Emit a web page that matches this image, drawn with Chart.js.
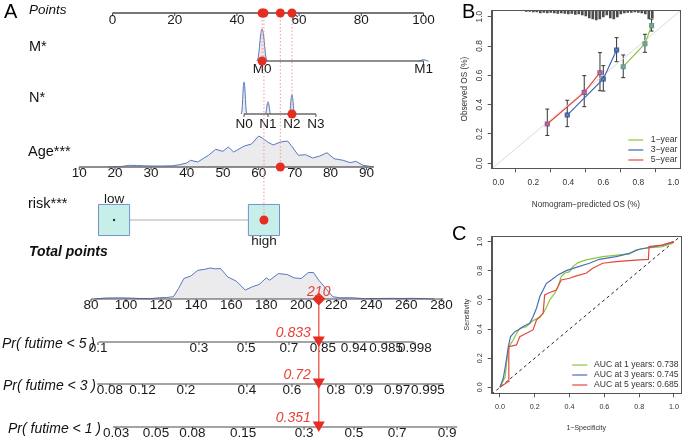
<!DOCTYPE html>
<html><head><meta charset="utf-8">
<script src="https://cdn.jsdelivr.net/npm/chart.js@4.4.1/dist/chart.umd.min.js"></script>
<style>
html,body{margin:0;padding:0;background:#fff;overflow:hidden}
#wrap{position:relative;width:685px;height:438px;background:#fff}
canvas{position:absolute;display:block}
</style></head><body>
<div id="wrap">
<canvas id="cA" width="458" height="438" style="left:0px;top:0px"></canvas>
<canvas id="cB" width="230" height="215" style="left:455px;top:0px"></canvas>
<canvas id="cC" width="235" height="223" style="left:450px;top:215px"></canvas>
</div>
<script>
// ===================== DATA : panel A (nomogram) =====================
const pointsTicks = [0, 20, 40, 60, 80, 100];
const mLevels = ['M0', 'M1'];
const mPoints = [48.1, 100];
const mShare = [1.0, 0.04];
const nLevels = ['N0', 'N1', 'N2', 'N3'];
const nPoints = [42.3, 50.0, 57.7, 65.4];
const nShare = [1.0, 0.38, 0.6, 0];
const ageTicks = [10, 20, 30, 40, 50, 60, 70, 80, 90];
const agePoints = [-10.7, 0.8, 12.4, 23.9, 35.5, 47.0, 58.6, 70.1, 81.7];
const ageRange = [10, 92];
const ageGrid = [18,20,22,24,26,28,30,33,36,38,40,41,43,46,48,50,51.5,53,54.5,56,58,60,61,62.5,64,66,68,69,71,73,75,77,79,81,83.5,85.5,87,89,92];
const ageDens = [0,0.3,0.6,1.7,1.5,1.2,1,1,1.2,2.3,4,6.7,5,11.7,17.7,15.7,20,15,18,21,23,31,29,25,22,25,26,21.7,11.7,12.3,9,11,14.3,8.3,6.7,4.3,5.7,1.7,0];
const riskLevels = ['low', 'high'];
const riskPoints = [0.5, 48.7];
const totalTicks = [80, 100, 120, 140, 160, 180, 200, 220, 240, 260, 280];
const totalRange = [80, 281];
const totalGrid = [82,88,95,102,108,114,119,123,127,130,133,137,141,145,148,151,154,158,163,168,172,176,180,182,187,192,196,200,204,207,210,214,218,222,229,236,244,252,258,264,271,276];
const totalDens = [0,1,1.2,1,0.5,0.3,1.3,1.5,2.3,10.7,20.7,23.3,29,30,31.3,30.5,30.7,22.3,18,9,12.3,14.7,21.3,19,25.7,24.7,21.3,20.7,26.7,26.7,19,10.7,2.3,1.3,1.3,0.3,0.5,0.7,0.5,0.7,0.3,0];
const pr5Labels = ['0.1','0.3','0.5','0.7','0.85','0.94','0.985','0.998'];
const pr5Points = [84.0, 141.6, 168.5, 193.0, 212.4, 230.1, 248.4, 264.9];
const pr5Range = [84.5, 264.5];
const pr3Labels = ['0.08','0.12','0.2','0.4','0.6','0.8','0.9','0.97','0.995'];
const pr3Points = [90.8, 109.4, 134.2, 169.0, 194.7, 219.8, 235.8, 254.7, 272.3];
const pr3Range = [83.5, 281];
const pr1Labels = ['0.03','0.05','0.08','0.15','0.3','0.5','0.7','0.9'];
const pr1Points = [94.3, 117.1, 137.9, 166.8, 201.6, 230.1, 254.7, 283.2];
const pr1Range = [92.5, 289];
const patientM = 'M0', patientN = 'N2', patientAge = 66, patientRisk = 'high';
const patientTotal = 210;
const patientProb = [0.833, 0.72, 0.351];   // 5-, 3-, 1-year

// ===================== DATA : panel B (calibration) =====================
const calTicks = [0, 0.2, 0.4, 0.6, 0.8, 1.0];
const cal1Pred = [0.714, 0.838, 0.876], cal1Obs = [0.659, 0.816, 0.939], cal1Lo = [0.584, 0.757, 0.902], cal1Hi = [0.739, 0.880, 0.984];
const cal3Pred = [0.394, 0.600, 0.676], cal3Obs = [0.329, 0.575, 0.773], cal3Lo = [0.25, 0.493, 0.693], cal3Hi = [0.43, 0.666, 0.857];
const cal5Pred = [0.280, 0.491, 0.581], cal5Obs = [0.268, 0.484, 0.618], cal5Lo = [0.19, 0.386, 0.495], cal5Hi = [0.37, 0.598, 0.755];
const calNames = ['1\u2212year', '3\u2212year', '5\u2212year'];
const rugX = [0.16,0.18,0.20,0.22,0.24,0.26,0.28,0.30,0.32,0.34,0.36,0.38,0.40,0.42,0.44,0.46,0.48,0.50,0.52,0.54,0.56,0.58,0.60,0.62,0.64,0.66,0.68,0.70,0.72,0.74,0.76,0.78,0.80,0.82,0.84,0.86,0.88];
const rugH = [1.5,1.5,2,2,3,2.5,3,2.5,3,3.5,3,3.5,4,3.5,4.5,4,5,6,8,9,10,9,7,5,8,9,7,4,3,2.5,2.5,2,2.5,3,4,9,8];

// ===================== DATA : panel C (ROC) =====================
const roc1Fpr = [0,0.03,0.038,0.048,0.057,0.076,0.095,0.114,0.152,0.19,0.229,0.248,0.267,0.286,0.314,0.333,0.352,0.371,0.4,0.419,0.448,0.495,0.59,0.743,0.78,0.838,0.933,0.99,1];
const roc1Tpr = [0,0.07,0.165,0.256,0.29,0.325,0.37,0.405,0.417,0.458,0.48,0.508,0.55,0.6,0.645,0.69,0.76,0.783,0.794,0.829,0.856,0.875,0.897,0.916,0.943,0.955,0.966,0.99,1];
const roc3Fpr = [0,0.019,0.034,0.048,0.061,0.086,0.114,0.133,0.171,0.19,0.21,0.229,0.248,0.267,0.295,0.333,0.381,0.438,0.514,0.571,0.667,0.743,0.8,0.933,1];
const roc3Tpr = [0,0.062,0.165,0.28,0.348,0.382,0.40,0.417,0.44,0.485,0.543,0.623,0.668,0.714,0.737,0.772,0.801,0.824,0.852,0.879,0.897,0.92,0.948,0.977,1];
const roc5Fpr = [0,0.048,0.051,0.095,0.114,0.152,0.19,0.21,0.248,0.257,0.276,0.324,0.352,0.4,0.438,0.495,0.533,0.59,0.667,0.8,0.853,0.857,0.933,1];
const roc5Tpr = [0,0.039,0.279,0.291,0.348,0.371,0.394,0.462,0.508,0.634,0.646,0.668,0.737,0.749,0.765,0.783,0.817,0.852,0.863,0.875,0.879,0.966,0.977,1];
const rocNames = ['AUC at 1 years: 0.738', 'AUC at 3 years: 0.745', 'AUC at 5 years: 0.685'];

// ===================== STYLE / LAYOUT =====================
const FONT = "'Liberation Sans', Arial, Helvetica, sans-serif";
Chart.defaults.font.family = FONT;
Chart.defaults.animation = false;
const RED = '#e52d22';
const RA = {points:13, M:61, N:114, age:167, risk:220, total:299, pr5:342, pr3:384, pr1:427};
const HA = {M:32, N:32, age:31, total:31};
const DENS_FILL = '#ebeaec', DENS_LINE = '#5677c2', AXIS = '#4a4a4a';

function interp(v, xs, ys) {
  let i = 0;
  if (v >= xs[xs.length - 1]) i = xs.length - 2;
  else while (i < xs.length - 2 && v > xs[i + 1]) i++;
  const t = (v - xs[i]) / (xs[i + 1] - xs[i]);
  return ys[i] + t * (ys[i + 1] - ys[i]);
}
const agePts = a => interp(a, ageTicks, agePoints);

// ---------- panel A datasets ----------
const dsA = [];
function add(o) {
  dsA.push(Object.assign({showLine:true, pointRadius:0, borderWidth:1.2, borderColor:AXIS,
    xAxisID:'x', yAxisID:'y', tension:0, fill:false, order:5}, o));
}
const spikeOffset = [-1.2, -0.9, -0.6, -0.3, 0, 0.3, 0.6, 0.9, 1.2];
const spikeShape = [0, 0.1, 0.45, 0.85, 1, 0.85, 0.45, 0.1, 0];
function addSpikes(pts, share, base, h, w) {
  pts.forEach((p, i) => {
    if (share[i] <= 0) return;
    add({data: spikeOffset.map((o, k) => ({x: p + o * w, y: base - spikeShape[k] * share[i] * h})),
      fill:{value: base}, backgroundColor: DENS_FILL, borderColor: DENS_LINE, borderWidth:1, tension:0.3, order:20});
  });
}
const ageMax = Math.max(...ageDens), totMax = Math.max(...totalDens);
add({data: ageGrid.map((a, i) => ({x: agePts(a), y: RA.age - ageDens[i] / ageMax * HA.age})),
  fill:{value: RA.age}, backgroundColor: DENS_FILL, borderColor: DENS_LINE, borderWidth:1, order:20});
add({xAxisID:'xt', data: totalGrid.map((t, i) => ({x: t, y: RA.total - totalDens[i] / totMax * HA.total})),
  fill:{value: RA.total}, backgroundColor: DENS_FILL, borderColor: DENS_LINE, borderWidth:1, order:20});
addSpikes(mPoints, mShare, RA.M, HA.M, 1.4);
addSpikes(nPoints, nShare, RA.N, HA.N, 0.75);
add({data:[{x:pointsTicks[0], y:RA.points}, {x:pointsTicks[pointsTicks.length-1], y:RA.points}], borderWidth:1.5});
add({data:[{x:mPoints[0], y:RA.M}, {x:mPoints[mPoints.length-1], y:RA.M}], borderColor:'#6a6a6a', borderWidth:1.5});
add({data:[{x:nPoints[0], y:RA.N}, {x:nPoints[nPoints.length-1], y:RA.N}], borderColor:'#6a6a6a', borderWidth:1.5});
add({data:[{x:agePts(ageRange[0]), y:RA.age}, {x:agePts(ageRange[1]), y:RA.age}], borderColor:'#6a6a6a', borderWidth:1.5});
add({xAxisID:'xt', data:[{x:totalRange[0], y:RA.total}, {x:totalRange[1], y:RA.total}]});
add({xAxisID:'xt', data:[{x:pr5Range[0], y:RA.pr5}, {x:pr5Range[1], y:RA.pr5}]});
add({xAxisID:'xt', data:[{x:pr3Range[0], y:RA.pr3}, {x:pr3Range[1], y:RA.pr3}]});
add({xAxisID:'xt', data:[{x:pr1Range[0], y:RA.pr1}, {x:pr1Range[1], y:RA.pr1}]});
add({data:[{x:riskPoints[0], y:RA.risk}, {x:riskPoints[1], y:RA.risk}], borderColor:'#d6d6d6', borderWidth:2, order:9});
add({showLine:false, data: riskPoints.map(p => ({x:p, y:RA.risk})), pointStyle:'rect', pointRadius:22,
  pointBackgroundColor:'#c6efe9', pointBorderColor:'#7592cb', pointBorderWidth:1, order:7});
add({showLine:false, data:[{x:riskPoints[0], y:RA.risk}], pointRadius:1.2, pointBackgroundColor:'#333', pointBorderWidth:0, order:6});
const sel = [
  {p: mPoints[mLevels.indexOf(patientM)], row: RA.M},
  {p: nPoints[nLevels.indexOf(patientN)], row: RA.N},
  {p: agePts(patientAge), row: RA.age},
  {p: riskPoints[riskLevels.indexOf(patientRisk)], row: RA.risk}
];
sel.forEach(s => add({data:[{x:s.p, y:RA.points}, {x:s.p, y:s.row}], borderColor:'#f19a92', borderWidth:1, borderDash:[1.5, 2], order:4}));
add({showLine:false, data: sel.map(s => ({x:s.p, y:RA.points})).concat(sel.map(s => ({x:s.p, y:s.row}))),
  pointRadius:4.5, pointBackgroundColor:RED, pointBorderColor:RED, pointBorderWidth:0, order:1});
add({xAxisID:'xt', data:[{x:patientTotal, y:RA.total}, {x:patientTotal, y:RA.pr1}], borderColor:'#ec6a62', borderWidth:1.5, order:3});
add({xAxisID:'xt', showLine:false, data:[{x:patientTotal, y:RA.total}], pointStyle:'rectRot', pointRadius:6.5,
  pointBackgroundColor:RED, pointBorderColor:RED, pointBorderWidth:0, order:1});
add({xAxisID:'xt', showLine:false, data:[RA.pr5, RA.pr3, RA.pr1].map(r => ({x:patientTotal, y:r - 2})),
  pointStyle:'triangle', pointRotation:180, pointRadius:7, pointBackgroundColor:RED, pointBorderColor:RED, pointBorderWidth:0, order:1});

const rowsSpec = [
  {axis:'x', row:'points', vals: pointsTicks, labs: pointsTicks.map(String), dy:7},
  {axis:'x', row:'M', vals: mPoints, labs: mLevels, dy:8},
  {axis:'x', row:'N', vals: nPoints, labs: nLevels, dy:10},
  {axis:'x', row:'age', vals: agePoints, labs: ageTicks.map(String), dy:6},
  {axis:'xt', row:'total', vals: totalTicks, labs: totalTicks.map(String), dy:6},
  {axis:'xt', row:'pr5', vals: pr5Points, labs: pr5Labels, dy:6},
  {axis:'xt', row:'pr3', vals: pr3Points, labs: pr3Labels, dy:6},
  {axis:'xt', row:'pr1', vals: pr1Points, labs: pr1Labels, dy:6}
];
const titlesA = [
  {t:'Points', x:29, y:10, f:'italic 13.5px'},
  {t:'M*', x:29, y:47, f:'14.5px'},
  {t:'N*', x:29, y:98, f:'14.5px'},
  {t:'Age***', x:28, y:152, f:'14.5px'},
  {t:'risk***', x:28, y:204, f:'14.5px'},
  {t:'Total points', x:29, y:252, f:'italic bold 14px'},
  {t:'Pr( futime < 5 )', x:2, y:344, f:'italic 14px'},
  {t:'Pr( futime < 3 )', x:3, y:386, f:'italic 14px'},
  {t:'Pr( futime < 1 )', x:8, y:429, f:'italic 14px'}
];

const nomoText = {
  id: 'nomoText',
  beforeDatasetsDraw(chart) {
    const ctx = chart.ctx, sy = chart.scales.y;
    ctx.save();
    ctx.strokeStyle = AXIS; ctx.lineWidth = 1;
    ctx.font = '13.5px ' + FONT; ctx.fillStyle = '#1a1a1a';
    ctx.textAlign = 'center'; ctx.textBaseline = 'middle';
    rowsSpec.forEach(r => {
      const sc = chart.scales[r.axis], y = sy.getPixelForValue(RA[r.row]);
      r.vals.forEach((v, i) => {
        const px = sc.getPixelForValue(v);
        ctx.beginPath(); ctx.moveTo(px, y); ctx.lineTo(px, y + 3); ctx.stroke();
        ctx.fillText(r.labs[i], px, y + r.dy);
      });
    });
    const sx = chart.scales.x;
    ctx.fillText(riskLevels[0], sx.getPixelForValue(riskPoints[0]), sy.getPixelForValue(RA.risk) - 21);
    ctx.fillText(riskLevels[1], sx.getPixelForValue(riskPoints[1]), sy.getPixelForValue(RA.risk) + 21);
    ctx.restore();
  },
  afterDatasetsDraw(chart) {
    const ctx = chart.ctx, sy = chart.scales.y, st = chart.scales.xt;
    ctx.save();
    ctx.fillStyle = '#111'; ctx.textAlign = 'left'; ctx.textBaseline = 'middle';
    titlesA.forEach(o => { ctx.font = o.f + ' ' + FONT; ctx.fillText(o.t, o.x, o.y); });
    ctx.font = '20px ' + FONT; ctx.textBaseline = 'alphabetic'; ctx.fillStyle = '#000';
    ctx.fillText('A', 4, 18);
    ctx.fillStyle = '#e8433a'; ctx.font = 'italic 14px ' + FONT;
    const px = st.getPixelForValue(patientTotal);
    ctx.textAlign = 'center'; ctx.textBaseline = 'middle';
    ctx.fillText(String(patientTotal), px, sy.getPixelForValue(RA.total) - 7);
    ctx.textAlign = 'right';
    [RA.pr5, RA.pr3, RA.pr1].forEach((r, i) => ctx.fillText(String(patientProb[i]), px - 8, sy.getPixelForValue(r) - 9));
    ctx.restore();
  }
};

new Chart(document.getElementById('cA'), {
  type: 'line',
  data: {datasets: dsA},
  options: {
    responsive: false, animation: false, events: [],
    layout: {padding: 0, autoPadding: false},
    scales: {
      x: {type:'linear', display:false, min:-36.17, max:111.09},
      xt: {type:'linear', axis:'x', display:false, min:28.06, max:289.47},
      y: {type:'linear', display:false, min:0, max:438, reverse:true}
    },
    plugins: {legend:{display:false}, tooltip:{enabled:false}}
  },
  plugins: [nomoText]
});

// ---------- shared plugins for B and C ----------
const boxPlugin = {
  id: 'boxPlugin',
  afterDraw(chart, a, o) {
    const {ctx, chartArea:c} = chart;
    ctx.save(); ctx.strokeStyle = '#555'; ctx.lineWidth = 1;
    ctx.strokeRect(Math.round(c.left) + 0.5, Math.round(c.top) + 0.5, Math.round(c.right - c.left), Math.round(c.bottom - c.top));
    const sy = chart.scales.y;
    ctx.fillStyle = '#333'; ctx.font = o.tickSize + 'px ' + FONT; ctx.textAlign = 'center'; ctx.textBaseline = 'middle';
    sy.ticks.forEach(t => {
      ctx.save(); ctx.translate(c.left - o.tickOffset, sy.getPixelForValue(t.value)); ctx.rotate(-Math.PI / 2);
      ctx.fillText(t.value.toFixed(1), 0, 0); ctx.restore();
    });
    ctx.font = o.legSize + 'px ' + FONT; ctx.textAlign = 'left'; ctx.fillStyle = '#333'; ctx.lineWidth = 1.2;
    o.items.forEach((it, i) => {
      const y = c.bottom - o.rows[i];
      ctx.strokeStyle = it.color; ctx.beginPath(); ctx.moveTo(c.right - o.l1, y); ctx.lineTo(c.right - o.l2, y); ctx.stroke();
      ctx.fillText(it.text, c.right - o.tx, y);
    });
    ctx.fillStyle = '#000'; ctx.font = '20px ' + FONT; ctx.textBaseline = 'alphabetic';
    ctx.fillText(o.letter, o.lx, o.ly);
    ctx.restore();
  }
};
function axisCfg(min, max, ticks, extra) {
  return Object.assign({
    type:'linear', min, max, offset:false,
    afterBuildTicks: s => { s.ticks = ticks.map(v => ({value:v})); },
    grid: {drawOnChartArea:false, drawTicks:true, tickLength:4, color:'#555'},
    border: {display:true, color:'#555'}
  }, extra);
}

// ---------- panel B ----------
const B_YMAX = 1.0457, PX_PER_UNIT_B = 146.6;
const errPlugin = {
  id: 'errPlugin',
  beforeDatasetsDraw(chart) {
    const ctx = chart.ctx, sx = chart.scales.x, sy = chart.scales.y;
    ctx.save(); ctx.strokeStyle = '#333'; ctx.lineWidth = 1;
    [[cal1Pred, cal1Lo, cal1Hi], [cal3Pred, cal3Lo, cal3Hi], [cal5Pred, cal5Lo, cal5Hi]].forEach(([xs, lo, hi]) => {
      xs.forEach((x, i) => {
        const px = sx.getPixelForValue(x), y1 = sy.getPixelForValue(lo[i]), y2 = sy.getPixelForValue(hi[i]);
        ctx.beginPath();
        ctx.moveTo(px, y1); ctx.lineTo(px, y2);
        ctx.moveTo(px - 2, y1); ctx.lineTo(px + 2, y1);
        ctx.moveTo(px - 2, y2); ctx.lineTo(px + 2, y2);
        ctx.stroke();
      });
    });
    ctx.restore();
  }
};
const calColors = ['#8cc63f', '#4065b4', '#e4473b'];
const calMarker = ['#5f9e86', '#2c57a6', '#a24a86'];
const dsB = [
  {data:[{x:-0.1, y:-0.1}, {x:1.1, y:1.1}], borderColor:'#dadada', borderWidth:1, pointRadius:0, order:10},
  {type:'bar', data: rugX.map((x, i) => ({x, y:[B_YMAX - rugH[i] / PX_PER_UNIT_B, B_YMAX]})),
    backgroundColor:'#4d4d4d', barThickness:2, grouped:false, order:9}
];
[[cal1Pred, cal1Obs], [cal3Pred, cal3Obs], [cal5Pred, cal5Obs]].forEach(([xs, ys], g) => {
  const d = xs.map((x, i) => ({x, y: ys[i]}));
  dsB.push({data:d, borderColor:calColors[g], borderWidth:1.2, pointStyle:'rect', pointRadius:3.6,
    pointBackgroundColor:calMarker[g], pointBorderColor:calMarker[g], pointBorderWidth:0, order:2});
  dsB.push({data:d, showLine:false, pointStyle:'crossRot', pointRadius:2.6, pointBorderColor:'#a0a0a0', pointBorderWidth:0.8, order:1});
});
new Chart(document.getElementById('cB'), {
  type: 'line',
  data: {datasets: dsB},
  options: {
    responsive: false, animation: false, events: [],
    layout: {padding: {top:10, right:5, left:0, bottom:0}, autoPadding: false},
    scales: {
      x: axisCfg(-0.0377, 1.0383, calTicks, {
        afterFit: s => { s.height = 46.7; },
        ticks: {callback: v => v.toFixed(1), font:{size:8.4}, color:'#333', padding:5.6, maxRotation:0, autoSkip:false},
        title: {display:true, text:'Nomogram\u2212predicted OS (%)', font:{size:8.2}, color:'#333', padding:{top:0, bottom:5}}
      }),
      y: axisCfg(-0.0341, B_YMAX, calTicks, {
        afterFit: s => { s.width = 36.7; },
        ticks: {display:false},
        title: {display:true, text:'Observed OS (%)', font:{size:8.2}, color:'#333', padding:{top:5, bottom:0}}
      })
    },
    plugins: {legend:{display:false}, tooltip:{enabled:false},
      boxPlugin: {tickSize:8.4, tickOffset:12, legSize:8.7, l1:51.7, l2:36.7, tx:29.3, rows:[28.3, 18.3, 8.3],
        items: calNames.map((t, i) => ({text:t, color:calColors[i]})), letter:'B', lx:7, ly:18}}
  },
  plugins: [errPlugin, boxPlugin]
});

// ---------- panel C ----------
const rocColors = ['#8cc63e', '#4a6fb5', '#e4473b'];
const dsC = [
  {data:[{x:-0.1, y:-0.1}, {x:1.1, y:1.1}], borderColor:'#222', borderWidth:1, borderDash:[3, 3], pointRadius:0, order:10}
];
[[roc1Fpr, roc1Tpr], [roc3Fpr, roc3Tpr], [roc5Fpr, roc5Tpr]].forEach(([xs, ys], g) => {
  dsC.push({data: xs.map((x, i) => ({x, y: ys[i]})), borderColor: rocColors[g], borderWidth:1.2, pointRadius:0, order:3 - g});
});
new Chart(document.getElementById('cC'), {
  type: 'line',
  data: {datasets: dsC},
  options: {
    responsive: false, animation: false, events: [],
    layout: {padding: {top:21, right:3.3, left:0, bottom:0}, autoPadding: false},
    scales: {
      x: axisCfg(-0.0474, 1.0383, calTicks, {
        afterFit: s => { s.height = 44.7; },
        ticks: {callback: v => v.toFixed(1), font:{size:7.2}, color:'#333', padding:5.9, maxRotation:0, autoSkip:false},
        title: {display:true, text:'1\u2212Specificity', font:{size:7}, color:'#333', padding:{top:0, bottom:5.3}}
      }),
      y: axisCfg(-0.0412, 1.0391, calTicks, {
        afterFit: s => { s.width = 41.7; },
        ticks: {display:false},
        title: {display:true, text:'Sensitivity', font:{size:7}, color:'#333', padding:{top:12.8, bottom:0}}
      })
    },
    plugins: {legend:{display:false}, tooltip:{enabled:false},
      boxPlugin: {tickSize:7.2, tickOffset:12, legSize:8.6, l1:108.4, l2:93.4, tx:86.7, rows:[28.3, 18.3, 8.3],
        items: rocNames.map((t, i) => ({text:t, color:rocColors[i]})), letter:'C', lx:2, ly:25}}
  },
  plugins: [boxPlugin]
});
</script>
</body></html>
